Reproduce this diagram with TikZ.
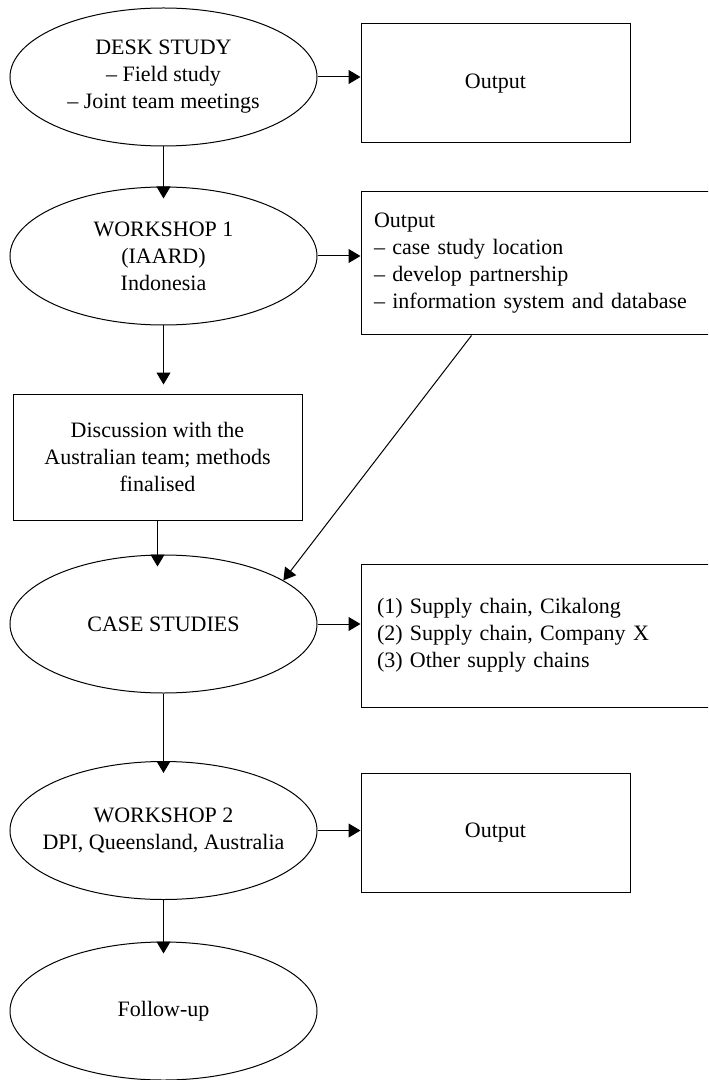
\documentclass[tikz,border=0pt]{standalone}
\usepackage{fontspec}
\setmainfont{Liberation Serif}
\usetikzlibrary{arrows.meta}
\usetikzlibrary{shapes.geometric}

\begin{document}
\begin{tikzpicture}[->,>={Triangle[length=6pt,width=7pt]},x=0.5pt,y=-0.5pt,line width=0.5pt,font=\fontsize{11pt}{13.5pt}\selectfont]
	\tikzset{phase/.style = {shape=ellipse, draw, align=center, minimum width=153.5pt, minimum height=69pt, inner xsep=-12pt, inner ysep=0pt},
		outbox/.style = {shape=rectangle, draw, minimum width=134.5pt, minimum height=59.5pt}}
	\useasboundingbox (0,0) rectangle (708,1080);
	\clip (0,0) rectangle (708,1080);

	% left column
	\node[phase] (DESK) at (163.5,77) {DESK STUDY\\ -- Field study\\ -- Joint team meetings};
	\node[phase] (WS1) at (163.5,256) {WORKSHOP 1\\ (IAARD)\\ Indonesia};
	\node[outbox, align=center, minimum width=144.5pt, minimum height=63pt] (DISC) at (157.5,457)
		{Discussion with the\\ Australian team; methods\\ finalised};
	\node[phase] (CASES) at (163.5,624) {CASE STUDIES};
	\node[phase] (WS2) at (163.5,830.5) {WORKSHOP 2\\ DPI, Queensland, Australia};
	\node[phase] (FOLLOW) at (163.5,1011) {Follow-up};

	% right column
	\node[outbox] (OUT1) at (495.5,83.5) {Output};
	\node[outbox, align=left, inner xsep=6.5pt, text width=171.5pt, minimum height=71.5pt] (OUT2) at (545.5,263.5)
		{Output\\ -- case study location\\ -- develop partnership\\ -- information system and database};
	\node[outbox, align=left, inner xsep=8pt, text width=168.5pt, minimum height=71.5pt] (OUT3) at (545.5,635.5)
		{(1) Supply chain, Cikalong\\ (2) Supply chain, Company X\\ (3) Other supply chains};
	\node[outbox] (OUT4) at (495.5,833) {Output};

	% connectors
	\draw (DESK.east) -- (DESK.east -| OUT1.west);
	\draw[shorten >=-6pt] (DESK.south) -- (WS1.north);
	\draw (WS1.east) -- (WS1.east -| OUT2.west);
	\draw[shorten >=4.5pt] (WS1.south) -- (WS1.south |- DISC.north);
	\draw[shorten >=-6pt] (DISC.south) -- (DISC.south |- CASES.north);
	\draw ([xshift=55.5pt]OUT2.south west) -- (CASES.20);
	\draw (CASES.east) -- (CASES.east -| OUT3.west);
	\draw[shorten >=-6pt] (CASES.south) -- (WS2.north);
	\draw (WS2.east) -- (WS2.east -| OUT4.west);
	\draw[shorten >=-6pt] (WS2.south) -- (FOLLOW.north);
\end{tikzpicture}
\end{document}
